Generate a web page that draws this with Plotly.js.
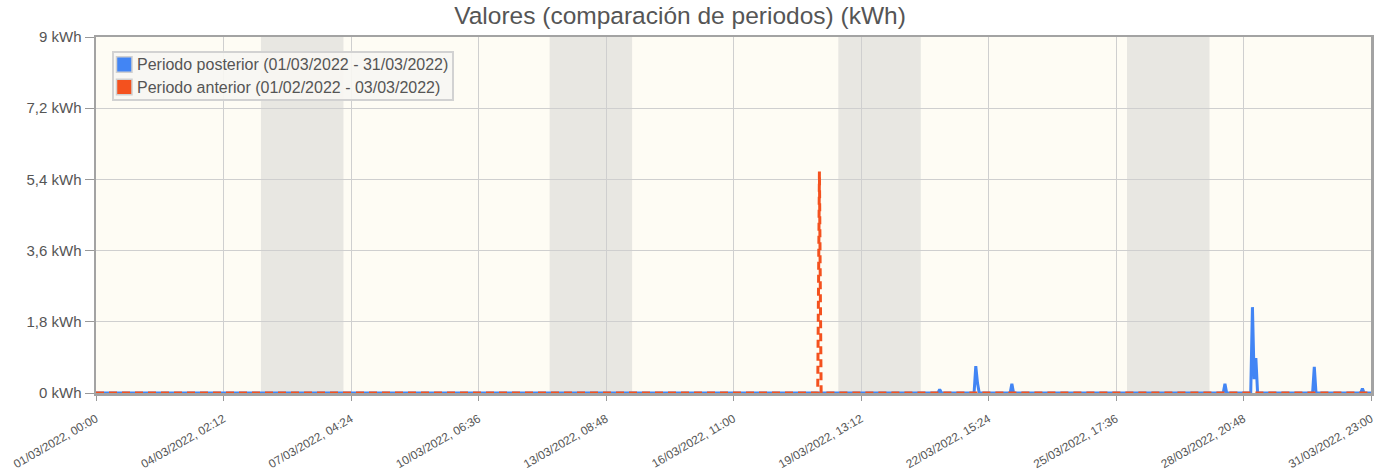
<!DOCTYPE html>
<html>
<head>
<meta charset="utf-8">
<script src="https://cdn.plot.ly/plotly-3.0.1.min.js"></script>
<style>html,body{margin:0;padding:0;background:#fff;}#chart{width:1385px;height:471px;}</style>
</head>
<body>
<div id="chart"></div>
<script>
// Series: Periodo posterior (blue)
const postTimes = [
  '2022-03-01 00:00', '2022-03-21 10:00', '2022-03-21 11:00', '2022-03-21 12:00',
  '2022-03-22 07:00', '2022-03-22 08:00', '2022-03-22 09:00', '2022-03-22 10:00',
  '2022-03-23 04:00', '2022-03-23 05:00', '2022-03-23 06:00',
  '2022-03-28 08:00', '2022-03-28 09:00', '2022-03-28 10:00',
  '2022-03-29 00:00', '2022-03-29 01:00', '2022-03-29 02:00', '2022-03-29 03:00', '2022-03-29 04:00', '2022-03-29 05:00',
  '2022-03-30 12:00', '2022-03-30 13:00', '2022-03-30 14:00',
  '2022-03-31 16:00', '2022-03-31 17:00', '2022-03-31 18:00', '2022-03-31 22:00'
];
const postValues = [
  0, 0, 0.09, 0,
  0, 0.68, 0.25, 0,
  0, 0.23, 0,
  0, 0.23, 0,
  0, 2.17, 0.35, 0.88, 0, 0,
  0, 0.66, 0,
  0, 0.11, 0, 0
];
// Series: Periodo anterior (orange, dashed)
const antTimes = ['2022-03-01 00:00', '2022-03-18 12:00', '2022-03-18 13:00', '2022-03-18 14:00', '2022-03-31 22:00'];
const antValues = [0, 0, 5.6, 0, 0];

const seriesNames = ['Periodo posterior (01/03/2022 - 31/03/2022)', 'Periodo anterior (01/02/2022 - 03/03/2022)'];

// Axis ticks
const xTickVals = ['2022-03-01 00:00', '2022-03-04 02:12', '2022-03-07 04:24', '2022-03-10 06:36', '2022-03-13 08:48',
  '2022-03-16 11:00', '2022-03-19 13:12', '2022-03-22 15:24', '2022-03-25 17:36', '2022-03-28 19:48', '2022-03-31 22:00'];
const xTickText = ['01/03/2022, 00:00', '04/03/2022, 02:12', '07/03/2022, 04:24', '10/03/2022, 06:36', '13/03/2022, 08:48',
  '16/03/2022, 11:00', '19/03/2022, 13:12', '22/03/2022, 15:24', '25/03/2022, 17:36', '28/03/2022, 20:48', '31/03/2022, 23:00'];
const yTickVals = [0, 1.8, 3.6, 5.4, 7.2, 9];
const yTickText = ['0 kWh', '1,8 kWh', '3,6 kWh', '5,4 kWh', '7,2 kWh', '9 kWh'];

// Weekend bands
const weekendStart = ['2022-03-05', '2022-03-12', '2022-03-19', '2022-03-26'];
const weekendEnd = ['2022-03-07', '2022-03-14', '2022-03-21', '2022-03-28'];

const colors = ['#4285f4', '#f4511e'];

const W = 1385, H = 471;
const M = {l: 96, r: 14, t: 37, b: 78};
const plotW = W - M.l - M.r, plotH = H - M.t - M.b;
const px = v => (v - M.l) / plotW;   // pixel -> paper x
const py = v => (H - M.b - v) / plotH; // pixel -> paper y

const traces = [
  {x: postTimes, y: postValues, type: 'scatter', mode: 'lines', line: {color: colors[0], width: 3}, hoverinfo: 'skip'},
  {x: antTimes, y: antValues, type: 'scatter', mode: 'lines', line: {color: colors[1], width: 3, dash: '8px,5px'}, hoverinfo: 'skip'}
];

const shapes = weekendStart.map((s, i) => ({
  type: 'rect', xref: 'x', yref: 'paper', x0: s, x1: weekendEnd[i], y0: 0, y1: 1,
  fillcolor: '#e8e7e2', line: {width: 0}, layer: 'below'
}));

// Custom legend (box, swatches, labels)
shapes.push({type: 'rect', xref: 'paper', yref: 'paper', x0: px(113), x1: px(453), y0: py(100), y1: py(52),
  fillcolor: 'rgba(247,246,242,0.92)', line: {color: '#d2d2d2', width: 2}, layer: 'above'});
const annotations = [];
seriesNames.forEach((name, i) => {
  const cy = 64.5 + i * 22.5;
  shapes.push({type: 'rect', xref: 'paper', yref: 'paper', x0: px(116.5), x1: px(132), y0: py(cy + 7.7), y1: py(cy - 7.7),
    fillcolor: colors[i], line: {color: '#d0d0d0', width: 1.5}, layer: 'above'});
  annotations.push({xref: 'paper', yref: 'paper', x: px(135), y: py(cy), xanchor: 'left', yanchor: 'middle',
    text: name, showarrow: false, font: {size: 16, color: '#555'}});
});

const layout = {
  width: W, height: H,
  margin: M,
  paper_bgcolor: '#ffffff',
  plot_bgcolor: '#fefcf4',
  font: {family: 'Liberation Sans, Arial, sans-serif', color: '#555', size: 13},
  title: {text: 'Valores (comparación de periodos) (kWh)', x: 680 / W, xanchor: 'center', y: 0.985, yanchor: 'top', font: {size: 24.5, color: '#555'}},
  showlegend: false,
  xaxis: {
    type: 'date', range: ['2022-03-01 00:00', '2022-03-31 22:00'],
    tickmode: 'array', tickvals: xTickVals, ticktext: xTickText, tickangle: -30,
    tickfont: {size: 11.8, color: '#555'}, ticklabelstandoff: 7,
    showgrid: true, gridcolor: '#cfcfcf', gridwidth: 1,
    ticks: 'outside', ticklen: 5, tickcolor: '#999', tickwidth: 1,
    showline: true, linecolor: '#a3a3a3', linewidth: 2.5, mirror: true, zeroline: false
  },
  yaxis: {
    range: [0, 9], tickmode: 'array', tickvals: yTickVals, ticktext: yTickText,
    tickfont: {size: 15, color: '#555'},
    showgrid: true, gridcolor: '#cfcfcf', gridwidth: 1,
    ticks: 'outside', ticklen: 9, tickcolor: '#999', tickwidth: 1,
    showline: true, linecolor: '#a3a3a3', linewidth: 2.5, mirror: true, zeroline: false
  },
  shapes: shapes,
  annotations: annotations
};

Plotly.newPlot('chart', traces, layout, {staticPlot: true, displayModeBar: false});
</script>
</body>
</html>
